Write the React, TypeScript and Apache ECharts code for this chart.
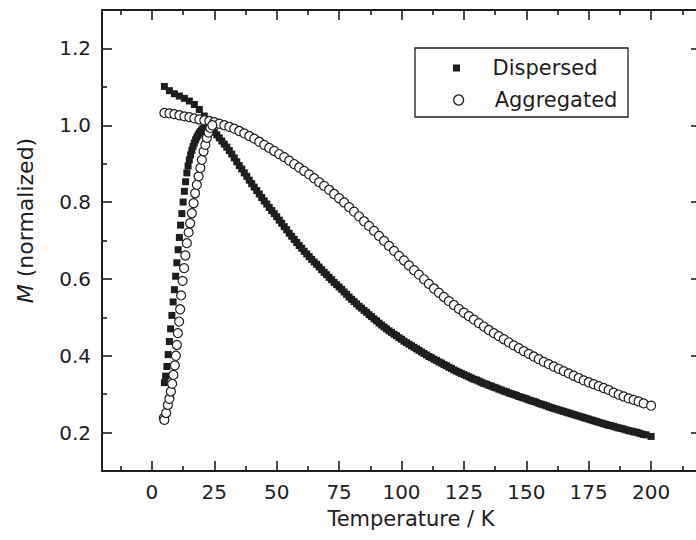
import React, { useEffect, useRef } from 'react';
import * as echarts from 'echarts';

// ---- axis ticks / labels ----
const xMajorTicks = [0, 25, 50, 75, 100, 125, 150, 175, 200];
const xMinorTicks = [-12.5, 12.5, 37.5, 62.5, 87.5, 112.5, 137.5, 162.5, 187.5, 212.5];
const yMajorTicks = [0.2, 0.4, 0.6, 0.8, 1.0, 1.2];
const yMinorTicks = [0.3, 0.5, 0.7, 0.9, 1.1];

// ---- Dispersed (squares): field-cooled branch ----
const dispFcT = [5, 7, 9, 11, 13, 15, 17, 19, 21, 23, 25, 27, 29, 31, 33, 35, 37, 39, 41, 43, 45, 47, 49, 51, 53, 55, 57, 59, 61, 63, 65, 67, 69, 71, 73, 75, 77, 79, 81, 83, 85, 87, 89, 91, 93, 95, 97, 99, 101, 103, 105, 107, 109, 111, 113, 115, 117, 119, 121, 123, 125, 127, 129, 131, 133, 135, 137, 139, 141, 143, 145, 147, 149, 151, 153, 155, 157, 159, 161, 163, 165, 167, 169, 171, 173, 175, 177, 179, 181, 183, 185, 187, 189, 191, 193, 195, 197, 200];
const dispFcM = [1.101, 1.090, 1.082, 1.076, 1.070, 1.063, 1.054, 1.041, 1.024, 1.003, 0.982, 0.967, 0.951, 0.934, 0.915, 0.895, 0.876, 0.857, 0.839, 0.821, 0.803, 0.786, 0.770, 0.753, 0.736, 0.719, 0.703, 0.687, 0.672, 0.658, 0.644, 0.631, 0.617, 0.604, 0.591, 0.579, 0.566, 0.553, 0.541, 0.529, 0.518, 0.507, 0.496, 0.485, 0.475, 0.465, 0.456, 0.447, 0.438, 0.430, 0.422, 0.414, 0.406, 0.398, 0.391, 0.384, 0.377, 0.370, 0.363, 0.357, 0.351, 0.345, 0.339, 0.334, 0.328, 0.323, 0.318, 0.313, 0.308, 0.303, 0.299, 0.294, 0.290, 0.285, 0.281, 0.276, 0.272, 0.267, 0.263, 0.259, 0.255, 0.251, 0.247, 0.243, 0.239, 0.235, 0.231, 0.227, 0.223, 0.219, 0.216, 0.212, 0.209, 0.205, 0.202, 0.199, 0.195, 0.190];
// ---- Dispersed: zero-field-cooled branch ----
const dispZfcT = [5.0, 5.5, 6.0, 6.5, 7.0, 7.5, 8.0, 8.5, 9.0, 9.5, 10.0, 10.5, 11.0, 11.5, 12.0, 12.5, 13.0, 13.5, 14.0, 14.5, 15.0, 15.5, 16.0, 16.5, 17.0, 17.5, 18.0, 18.5, 19.0, 19.5, 20.0, 20.5, 21.0, 21.5, 22.0, 22.5, 23.0, 24.0, 26, 28, 30, 32, 34, 36, 38, 40, 42, 44, 46, 48, 50, 52, 54, 56, 58, 60, 62, 64, 66, 68, 70, 72, 74, 76, 78, 80, 82, 84, 86, 88, 90, 92, 94, 96, 98, 100, 102, 104, 106, 108, 110, 112, 114, 116, 118, 120, 122, 124, 126, 128, 130, 132, 134, 136, 138, 140, 142, 144, 146, 148, 150, 152, 154, 156, 158, 160, 162, 164, 166, 168, 170, 172, 174, 176, 178, 180, 182, 184, 186, 188, 190, 192, 194, 196, 198];
const dispZfcM = [0.330, 0.347, 0.372, 0.403, 0.437, 0.470, 0.505, 0.540, 0.572, 0.607, 0.642, 0.676, 0.708, 0.740, 0.770, 0.800, 0.828, 0.853, 0.876, 0.894, 0.910, 0.923, 0.935, 0.945, 0.954, 0.962, 0.969, 0.975, 0.980, 0.984, 0.988, 0.991, 0.993, 0.995, 0.996, 0.996, 0.995, 0.990, 0.975, 0.959, 0.943, 0.925, 0.905, 0.886, 0.867, 0.848, 0.830, 0.812, 0.795, 0.778, 0.762, 0.745, 0.728, 0.711, 0.695, 0.680, 0.665, 0.651, 0.638, 0.624, 0.611, 0.598, 0.585, 0.573, 0.560, 0.547, 0.535, 0.524, 0.513, 0.502, 0.491, 0.480, 0.470, 0.461, 0.452, 0.443, 0.434, 0.426, 0.418, 0.410, 0.402, 0.395, 0.388, 0.381, 0.374, 0.367, 0.360, 0.354, 0.348, 0.342, 0.337, 0.331, 0.326, 0.321, 0.316, 0.311, 0.306, 0.301, 0.297, 0.292, 0.288, 0.283, 0.279, 0.274, 0.270, 0.265, 0.261, 0.257, 0.253, 0.249, 0.245, 0.241, 0.237, 0.233, 0.229, 0.225, 0.221, 0.218, 0.214, 0.211, 0.207, 0.204, 0.201, 0.197, 0.194];

// ---- Aggregated (open circles): field-cooled branch ----
const aggFcT = [5, 7, 9, 11, 13, 15, 17, 19, 21, 23, 25, 27, 29, 31, 33, 35, 37, 39, 41, 43, 45, 47, 49, 51, 53, 55, 57, 59, 61, 63, 65, 67, 69, 71, 73, 75, 77, 79, 81, 83, 85, 87, 89, 91, 93, 95, 97, 99, 101, 103, 105, 107, 109, 111, 113, 115, 117, 119, 121, 123, 125, 127, 129, 131, 133, 135, 137, 139, 141, 143, 145, 147, 149, 151, 153, 155, 157, 159, 161, 163, 165, 167, 169, 171, 173, 175, 177, 179, 181, 183, 185, 187, 189, 191, 193, 195, 197, 200];
const aggFcM = [1.032, 1.031, 1.029, 1.026, 1.023, 1.021, 1.018, 1.015, 1.013, 1.011, 1.008, 1.004, 1.000, 0.996, 0.991, 0.985, 0.979, 0.972, 0.965, 0.957, 0.949, 0.941, 0.933, 0.925, 0.917, 0.908, 0.899, 0.890, 0.881, 0.872, 0.862, 0.852, 0.842, 0.832, 0.821, 0.810, 0.799, 0.787, 0.775, 0.763, 0.750, 0.738, 0.725, 0.712, 0.699, 0.686, 0.673, 0.660, 0.648, 0.635, 0.623, 0.611, 0.599, 0.587, 0.575, 0.564, 0.553, 0.542, 0.532, 0.522, 0.512, 0.503, 0.494, 0.485, 0.476, 0.467, 0.459, 0.451, 0.443, 0.435, 0.427, 0.420, 0.412, 0.405, 0.398, 0.391, 0.384, 0.378, 0.372, 0.366, 0.360, 0.354, 0.348, 0.342, 0.336, 0.331, 0.326, 0.321, 0.316, 0.311, 0.304, 0.299, 0.294, 0.289, 0.285, 0.281, 0.276, 0.270];
// ---- Aggregated: zero-field-cooled branch ----
const aggZfcT = [4.8, 5.0, 5.7, 6.4, 7.0, 7.6, 8.1, 8.6, 9.2, 9.6, 10.0, 10.4, 10.9, 11.3, 11.7, 12.3, 12.9, 13.4, 14.0, 14.7, 15.3, 16.0, 16.7, 17.3, 18.0, 18.7, 19.4, 20.0, 20.7, 21.4, 22.0, 22.7, 23.4, 24.2];
const aggZfcM = [0.238, 0.233, 0.251, 0.272, 0.288, 0.307, 0.327, 0.350, 0.375, 0.400, 0.428, 0.459, 0.489, 0.521, 0.557, 0.595, 0.628, 0.661, 0.693, 0.721, 0.745, 0.771, 0.797, 0.823, 0.845, 0.867, 0.889, 0.910, 0.932, 0.949, 0.967, 0.981, 0.993, 1.000];

const INK = '#1e1e1e';
const FONT = 'DejaVu Sans';

const zip = (t: number[], m: number[]) => t.map((v, i) => [v, m[i]]);

function xAxisDef(position: 'bottom' | 'top', ticks: number[], len: number, major: boolean, withLabels: boolean): any {
  return {
    type: 'value',
    position,
    offset: 0,
    min: -20,
    max: 220,
    splitLine: { show: false },
    axisLine: { show: major, onZero: false, lineStyle: { color: INK, width: 2 } },
    axisTick: { show: true, inside: true, length: len, customValues: ticks, lineStyle: { color: INK, width: 1.6 } },
    axisLabel: withLabels
      ? { show: true, customValues: ticks, fontSize: 20, fontFamily: FONT, color: INK, margin: 11 }
      : { show: false },
  };
}

function yAxisDef(position: 'left' | 'right', ticks: number[], len: number, major: boolean, withLabels: boolean): any {
  return {
    type: 'value',
    position,
    offset: 0,
    min: 0.1,
    max: 1.3,
    splitLine: { show: false },
    axisLine: { show: major, onZero: false, lineStyle: { color: INK, width: 2 } },
    axisTick: { show: true, inside: true, length: len, customValues: ticks, lineStyle: { color: INK, width: 1.6 } },
    axisLabel: withLabels
      ? {
          show: true,
          customValues: ticks,
          fontSize: 20,
          fontFamily: FONT,
          color: INK,
          margin: 11,
          formatter: (v: number) => v.toFixed(1),
        }
      : { show: false },
  };
}

export default function App() {
  const ref = useRef<HTMLDivElement>(null);

  useEffect(() => {
    if (!ref.current) return;
    const chart = echarts.init(ref.current, null, { renderer: 'svg' });

    const xBottom = xAxisDef('bottom', xMajorTicks, 10, true, true);
    xBottom.name = 'Temperature / K';
    xBottom.nameLocation = 'middle';
    xBottom.nameGap = 37;
    xBottom.nameTextStyle = { fontSize: 21, fontFamily: FONT, color: INK, padding: [0, 0, 0, 19] };

    const yLeft = yAxisDef('left', yMajorTicks, 10, true, true);
    yLeft.name = '{i|M} (normalized)';
    yLeft.nameLocation = 'middle';
    yLeft.nameGap = 66;
    yLeft.nameTextStyle = {
      fontSize: 22,
      fontFamily: FONT,
      color: INK,
      padding: [0, 0, 0, 40],
      rich: { i: { fontStyle: 'italic', fontSize: 22, fontFamily: FONT, color: INK } },
    };

    const option: any = {
      animation: false,
      backgroundColor: '#ffffff',
      grid: { left: 102, top: 10, right: 5, bottom: 69, containLabel: false },
      xAxis: [
        xBottom,
        xAxisDef('top', xMajorTicks, 10, true, false),
        xAxisDef('bottom', xMinorTicks, 5, false, false),
        xAxisDef('top', xMinorTicks, 5, false, false),
      ],
      yAxis: [
        yLeft,
        yAxisDef('right', yMajorTicks, 10, true, false),
        yAxisDef('left', yMinorTicks, 5, false, false),
        yAxisDef('right', yMinorTicks, 5, false, false),
      ],
      legend: [
        {
          data: [{ name: 'Dispersed', icon: 'path://M0,0H10V10H0Z' }],
          left: 453,
          top: 56,
          padding: 0,
          itemWidth: 62,
          itemHeight: 7,
          symbolKeepAspect: true,
          selectedMode: false,
          itemStyle: { color: INK, borderWidth: 0 },
          textStyle: { fontSize: 21, fontFamily: FONT, color: INK, lineHeight: 24 },
        },
        {
          data: [{ name: 'Aggregated', icon: 'circle' }],
          left: 453,
          top: 88,
          padding: 0,
          itemWidth: 62,
          itemHeight: 10,
          selectedMode: false,
          itemStyle: { color: '#ffffff', borderColor: INK, borderWidth: 1.3 },
          textStyle: { fontSize: 21, fontFamily: FONT, color: INK, lineHeight: 24 },
        },
      ],
      graphic: [
        {
          type: 'rect',
          shape: { x: 415, y: 48, width: 213, height: 69 },
          style: { fill: 'none', stroke: INK, lineWidth: 1.3 },
          z: 10,
        },
      ],
      series: [
        {
          name: 'Dispersed',
          type: 'scatter',
          xAxisIndex: 0,
          yAxisIndex: 0,
          symbol: 'rect',
          symbolSize: 7,
          itemStyle: { color: INK, opacity: 1 },
          data: [...zip(dispFcT, dispFcM), ...zip(dispZfcT, dispZfcM)],
          z: 2,
        },
        {
          name: 'Aggregated',
          type: 'scatter',
          xAxisIndex: 0,
          yAxisIndex: 0,
          symbol: 'circle',
          symbolSize: 9,
          itemStyle: { color: '#ffffff', borderColor: INK, borderWidth: 1.2, opacity: 1 },
          data: [...zip(aggFcT, aggFcM), ...zip(aggZfcT, aggZfcM)],
          z: 3,
        },
      ],
    };

    chart.setOption(option);
    return () => chart.dispose();
  }, []);

  return (
    <div style={{ position: 'absolute', left: 0, top: 0, width: 696, height: 540, overflow: 'hidden' }}>
      <div ref={ref} style={{ width: 706, height: 540 }} />
    </div>
  );
}
